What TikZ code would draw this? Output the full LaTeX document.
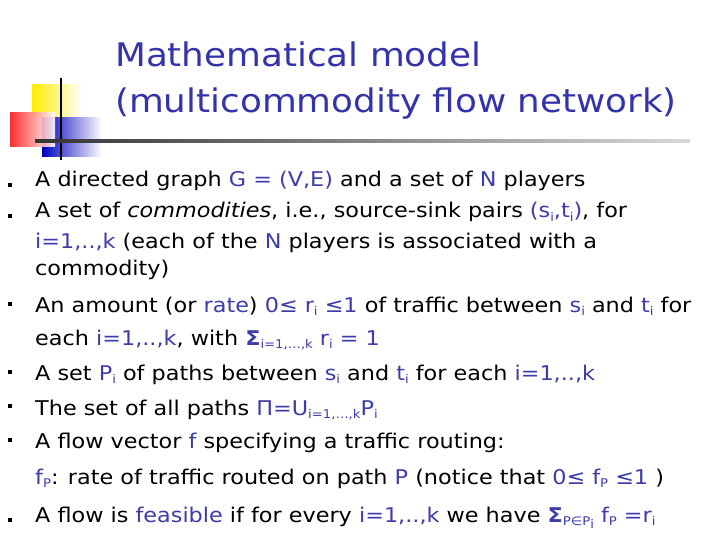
\documentclass[tikz,border=0pt]{standalone}
\usepackage{fontspec}
\setmainfont[FakeStretch=1.1]{DejaVu Sans}
\definecolor{tblue}{RGB}{51,51,170}
\definecolor{ublue}{RGB}{60,60,170}
\newcommand\bl[1]{\textcolor{ublue}{#1}}
\newcommand\sbs[1]{\raisebox{-0.35ex}{\fontsize{12}{12}\selectfont #1}}
\begin{document}
\begin{tikzpicture}[x=1pt,y=-1pt,
  line/.style={anchor=base west,inner sep=0pt,font=\fontsize{20.3}{24}\selectfont},
  ttl/.style={anchor=base west,inner sep=0pt,font=\fontsize{32.5}{40}\selectfont,text=tblue},
  bul/.style={fill=black,minimum size=3.5pt,inner sep=0pt}]
\useasboundingbox (0,0) rectangle (720,540);
\fill[white] (0,0) rectangle (720,540);
% decoration
\shade[left color=yellow!85!orange,right color=white] (32,85) rectangle (82,118);
\shade[left color=blue!75!black,right color=white] (42,118) rectangle (102,157);
\shade[left color=red!90,right color=white,opacity=0.9] (10,113) rectangle (55,147);
\draw[line width=2pt] (61,78) -- (61,160);
\shade[left color=black!80,right color=black!15] (35,139.8) rectangle (690,142.2);
\node[ttl] (t1) at (115,67) {Mathematical model};
\node[ttl] (t2) at (115,113) {(multicommodity flow network)};
% bullets
\foreach \n/\yy in {1/185,2/216,3/304,4/372,5/406,6/440,7/520}{
  \node[bul] (b\n) at (10,\yy) {};}
\node[line] (l1) at (35,187) {A directed graph \bl{G = (V,E)} and a set of \bl{N} players};
\node[line] (l2) at (35,218) {A set of \textit{commodities}, i.e., source-sink pairs \bl{(s\sbs{i},t\sbs{i})}, for};
\node[line] (l3) at (35,248) {\bl{i=1,..,k} (each of the \bl{N} players is associated with a};
\node[line] (l4) at (35,275) {commodity)};
\node[line] (l5) at (35,312) {An amount (or \bl{rate}) \bl{0≤ r\sbs{i} ≤1} of traffic between \bl{s\sbs{i}} and \bl{t\sbs{i}} for};
\node[line] (l6) at (35,345) {each \bl{i=1,..,k}, with \bl{\textbf{Σ}\sbs{i=1,…,k} r\sbs{i} = 1}};
\node[line] (l7) at (35,380) {A set \bl{P\sbs{i}} of paths between \bl{s\sbs{i}} and \bl{t\sbs{i}} for each \bl{i=1,..,k}};
\node[line] (l8) at (35,415) {The set of all paths \bl{Π=U\sbs{i=1,…,k}P\sbs{i}}};
\node[line] (l9) at (35,448) {A flow vector \bl{f} specifying a traffic routing:};
\node[line] (l10) at (35,484) {\bl{f\sbs{P}}: rate of traffic routed on path \bl{P} (notice that \bl{0≤ f\sbs{P} ≤1} )};
\node[line] (l11) at (35,522) {A flow is \bl{feasible} if for every \bl{i=1,..,k} we have \bl{\textbf{Σ}\sbs{P∈P\sbs{i}} f\sbs{P} =r\sbs{i}}};
\end{tikzpicture}
\end{document}
